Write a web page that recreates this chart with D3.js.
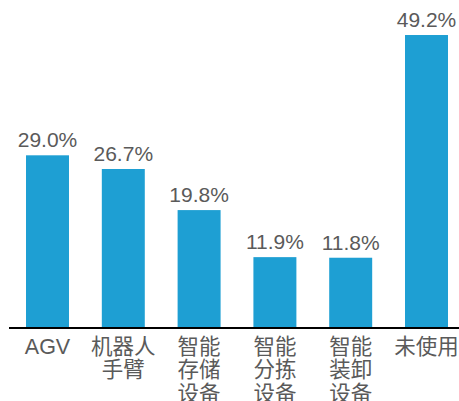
<!DOCTYPE html>
<html>
<head>
<meta charset="utf-8">
<script src="https://cdn.jsdelivr.net/npm/d3@7"></script>
<style>
  html, body { margin: 0; padding: 0; background: #fff; }
  svg { display: block; }
</style>
</head>
<body>
<svg id="chart" width="459" height="401"></svg>
<script>
// Share of respondents using each kind of warehouse automation (%)
const categories = ["AGV", "机器人手臂", "智能存储设备", "智能分拣设备", "智能装卸设备", "未使用"];
const labelLines = [["AGV"], ["机器人", "手臂"], ["智能", "存储", "设备"], ["智能", "分拣", "设备"], ["智能", "装卸", "设备"], ["未使用"]];
const values = [29.0, 26.7, 19.8, 11.9, 11.8, 49.2];

const W = 459, H = 401;
const baseY = 328;
const barColor = "#1e9fd3";
const textColor = "#5a5a5a";
const font = "'Liberation Sans', Arial, 'Noto Sans CJK SC', sans-serif";

const svg = d3.select("#chart");

const x = d3.scaleBand()
  .domain(categories)
  .range([9.6, 464.4])
  .paddingInner(0.433)
  .paddingOuter(0.2165);

const y = d3.scaleLinear()
  .domain([0, 50])
  .range([baseY, baseY - 50 * 5.955]);

const data = categories.map((c, i) => ({ c, v: values[i], lines: labelLines[i] }));

// bars
svg.append("g").selectAll("rect")
  .data(data)
  .join("rect")
  .attr("x", d => x(d.c))
  .attr("y", d => y(d.v))
  .attr("width", x.bandwidth())
  .attr("height", d => y(0) - y(d.v))
  .attr("fill", barColor);

// value labels
svg.append("g").selectAll("text")
  .data(data)
  .join("text")
  .attr("x", d => x(d.c) + x.bandwidth() / 2)
  .attr("y", d => y(d.v) - 8)
  .attr("text-anchor", "middle")
  .attr("font-family", font)
  .attr("font-size", 21)
  .attr("fill", textColor)
  .text(d => d.v.toFixed(1) + "%");

// baseline
svg.append("line")
  .attr("x1", 9).attr("x2", W)
  .attr("y1", baseY).attr("y2", baseY)
  .attr("stroke", "#000")
  .attr("stroke-width", 2);

// category labels, wrapped in short lines
const cat = svg.append("g").selectAll("text")
  .data(data)
  .join("text")
  .attr("text-anchor", "middle")
  .attr("font-family", font)
  .attr("font-size", 21.5)
  .attr("fill", textColor);

cat.selectAll("tspan")
  .data(d => d.lines.map((l, j) => ({ l, j, cx: x(d.c) + x.bandwidth() / 2 })))
  .join("tspan")
  .attr("x", d => d.cx)
  .attr("y", d => 354 + d.j * 23.3)
  .text(d => d.l);
</script>
</body>
</html>
